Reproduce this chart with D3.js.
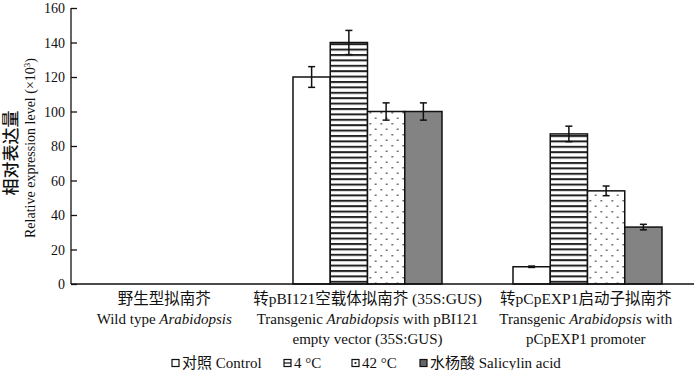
<!DOCTYPE html>
<html lang="zh">
<head>
<meta charset="UTF-8">
<script src="https://d3js.org/d3.v7.min.js"></script>
<style>
  body { margin: 0; background: #fff; }
  svg text { font-family: "Liberation Serif", "Noto Sans CJK SC", serif; fill: #111; }
</style>
</head>
<body>
<div id="chart"></div>
<script>
// data
var groups = ["wt", "gus", "exp1"];
var groupZh = ["野生型拟南芥", "转pBI121空载体拟南芥 (35S:GUS)", "转pCpEXP1启动子拟南芥"];
var groupEn = [
  [["Wild type ", false], ["Arabidopsis", true]],
  [["Transgenic ", false], ["Arabidopsis", true], [" with pBI121", false]],
  [["Transgenic ", false], ["Arabidopsis", true], [" with", false]]
];
var groupEn2 = ["", "empty vector (35S:GUS)", "pCpEXP1 promoter"];
var series = ["control", "c4", "c42", "sa"];
var seriesLabel = ["对照 Control", "4 °C", "42 °C", "水杨酸 Salicylin acid"];
var values = {
  control: [0, 120, 10],
  c4: [0, 140, 87],
  c42: [0, 100, 54],
  sa: [0, 100, 33]
};
var errors = {
  control: [0, 6, 0.4],
  c4: [0, 7, 4.5],
  c42: [0, 5, 2.8],
  sa: [0, 5, 1.6]
};
var yTicks = [0, 20, 40, 60, 80, 100, 120, 140, 160];

var W = 700, H = 370;
var axisLeft = 71, axisRight = 694, y0px = 284, yTop = 8;

var svg = d3.select("#chart").append("svg")
  .attr("width", W).attr("height", H);

var defs = svg.append("defs");
var stripes = defs.append("pattern").attr("id", "stripes")
  .attr("patternUnits", "userSpaceOnUse").attr("width", 8).attr("height", 5.4);
stripes.append("rect").attr("width", 8).attr("height", 5.4).attr("fill", "#fff");
stripes.append("rect").attr("y", 0).attr("width", 8).attr("height", 2).attr("fill", "#222");

var dots = defs.append("pattern").attr("id", "dots")
  .attr("patternUnits", "userSpaceOnUse").attr("width", 11).attr("height", 11);
dots.append("rect").attr("width", 11).attr("height", 11).attr("fill", "#fff");
dots.append("rect").attr("x", 2).attr("y", 2).attr("width", 1.5).attr("height", 1.5).attr("fill", "#444");
dots.append("rect").attr("x", 7.5).attr("y", 7.5).attr("width", 1.5).attr("height", 1.5).attr("fill", "#444");

var fills = { control: "#fff", c4: "url(#stripes)", c42: "url(#dots)", sa: "#838383" };

var y = d3.scaleLinear().domain([0, 160]).range([y0px, yTop]);
var x0 = d3.scaleBand().domain(groups).range([37.5, 697.5]);
var x1 = d3.scaleBand().domain(series).range([0, x0.bandwidth()]).paddingOuter(0.953);

// y axis, ticks pointing inward
var yAxis = svg.append("g")
  .attr("transform", "translate(" + axisLeft + ",0)")
  .call(d3.axisRight(y).tickValues(yTicks).tickSize(6).tickFormat(d3.format("d")));
yAxis.select(".domain").remove();
yAxis.selectAll("line").attr("stroke", "#111").attr("stroke-width", 1.3);
yAxis.selectAll("text").attr("x", -6).attr("text-anchor", "end")
  .attr("font-size", 14).attr("dy", "0.35em");
svg.append("line").attr("x1", axisLeft).attr("x2", axisLeft)
  .attr("y1", y(160)).attr("y2", y0px).attr("stroke", "#111").attr("stroke-width", 1.3);

// axis title
svg.append("text").attr("transform", "translate(17,153) rotate(-90)")
  .attr("text-anchor", "middle").attr("font-size", 17).attr("font-weight", 500)
  .text("相对表达量");
var t2 = svg.append("text").attr("transform", "translate(35,148) rotate(-90)")
  .attr("text-anchor", "middle").attr("font-size", 14);
t2.append("tspan").text("Relative expression level (×10");
t2.append("tspan").attr("font-size", 9).attr("dy", -5).text("3");
t2.append("tspan").attr("dy", 5).text(")");

// bars
var gGroup = svg.selectAll(".grp").data(groups).enter().append("g")
  .attr("class", "grp")
  .attr("transform", function (d) { return "translate(" + x0(d) + ",0)"; });

series.forEach(function (s) {
  gGroup.each(function (g, gi) {
    var v = values[s][gi];
    if (v <= 0) return;
    var sel = d3.select(this);
    sel.append("rect")
      .attr("x", x1(s)).attr("y", y(v))
      .attr("width", x1.bandwidth()).attr("height", y0px - y(v))
      .attr("fill", fills[s]).attr("stroke", "#111").attr("stroke-width", 1.5);
    var cx = x1(s) + x1.bandwidth() / 2;
    var e = errors[s][gi];
    sel.append("line").attr("x1", cx).attr("x2", cx)
      .attr("y1", y(v + e)).attr("y2", y(v - e))
      .attr("stroke", "#111").attr("stroke-width", 1.5);
    [v + e, v - e].forEach(function (t) {
      sel.append("line").attr("x1", cx - 3.5).attr("x2", cx + 3.5)
        .attr("y1", y(t)).attr("y2", y(t))
        .attr("stroke", "#111").attr("stroke-width", 1.5);
    });
  });
});

// x axis line
svg.append("line").attr("x1", axisLeft).attr("x2", axisRight)
  .attr("y1", y0px).attr("y2", y0px).attr("stroke", "#111").attr("stroke-width", 1.3);

// category labels, centred on the visible part of each band
groups.forEach(function (g, i) {
  var a = Math.max(x0(g), axisLeft), b = Math.min(x0(g) + x0.bandwidth(), axisRight);
  var cx = (a + b) / 2;
  svg.append("text").attr("x", cx).attr("y", 304).attr("text-anchor", "middle")
    .attr("font-size", 15.5).text(groupZh[i]);
  var t = svg.append("text").attr("x", cx).attr("y", 324).attr("text-anchor", "middle")
    .attr("font-size", 15);
  groupEn[i].forEach(function (p) {
    t.append("tspan").attr("font-style", p[1] ? "italic" : null).text(p[0]);
  });
  if (groupEn2[i]) {
    svg.append("text").attr("x", cx).attr("y", 344).attr("text-anchor", "middle")
      .attr("font-size", 15).text(groupEn2[i]);
  }
});

// legend
var legX = [172, 284, 352, 420];
var leg = svg.selectAll(".leg").data(series).enter().append("g")
  .attr("class", "leg")
  .attr("transform", function (d, i) { return "translate(" + legX[i] + ",359.5)"; });
leg.append("rect").attr("width", 7).attr("height", 7)
  .attr("fill", "#fff").attr("stroke", "#111").attr("stroke-width", 1.2);
leg.filter(function (d) { return d === "c4"; }).append("line")
  .attr("x1", 0).attr("x2", 7).attr("y1", 3.5).attr("y2", 3.5)
  .attr("stroke", "#111").attr("stroke-width", 1.2);
leg.filter(function (d) { return d === "c42"; }).append("rect")
  .attr("x", 2.6).attr("y", 2.6).attr("width", 1.8).attr("height", 1.8).attr("fill", "#111");
leg.filter(function (d) { return d === "sa"; }).select("rect").attr("fill", "#666");
leg.append("text").attr("x", 10).attr("y", 8.5).attr("font-size", 15)
  .text(function (d, i) { return seriesLabel[i]; });
</script>
</body>
</html>
